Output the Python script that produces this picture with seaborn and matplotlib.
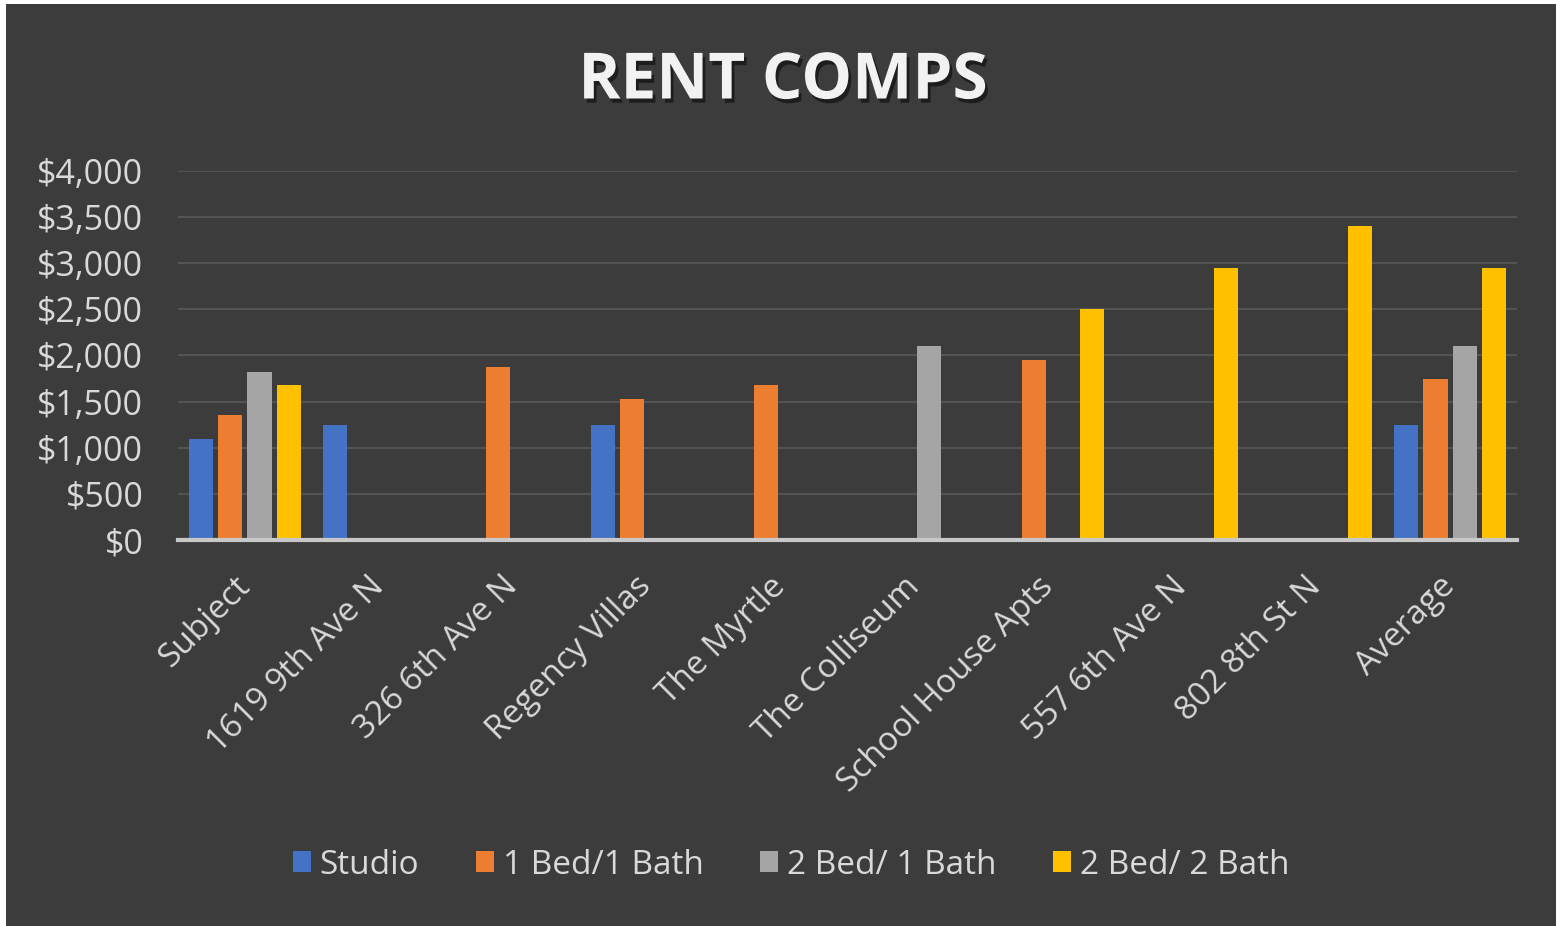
import numpy as np
import pandas as pd
import matplotlib
matplotlib.use("Agg")
import matplotlib.pyplot as plt
import matplotlib.patheffects as pe
from matplotlib.patches import Rectangle
from matplotlib.ticker import FuncFormatter
import seaborn as sns

# Data
properties = ["Subject", "1619 9th Ave N", "326 6th Ave N", "Regency Villas", "The Myrtle",
              "The Colliseum", "School House Apts", "557 6th Ave N", "802 8th St N", "Average"]
unit_types = ["Studio", "1 Bed/1 Bath", "2 Bed/ 1 Bath", "2 Bed/ 2 Bath"]
studio = [1100, 1250, np.nan, 1250, np.nan, np.nan, np.nan, np.nan, np.nan, 1250]
one_bed = [1350, np.nan, 1875, 1525, 1675, np.nan, 1950, np.nan, np.nan, 1750]
two_bed_one_bath = [1825, np.nan, np.nan, np.nan, np.nan, 2100, np.nan, np.nan, np.nan, 2100]
two_bed_two_bath = [1675, np.nan, np.nan, np.nan, np.nan, np.nan, 2500, 2950, 3400, 2950]
colors = ["#4472C4", "#ED7D31", "#A5A5A5", "#FFC000"]

df = pd.DataFrame({"Property": properties, unit_types[0]: studio, unit_types[1]: one_bed,
                   unit_types[2]: two_bed_one_bath, unit_types[3]: two_bed_two_bath})
long = df.melt(id_vars="Property", var_name="Unit", value_name="Rent").dropna()

sns.set_theme(style="dark")
plt.rcParams["font.family"] = ["Open Sans", "DejaVu Sans"]

bg = "#3c3c3c"
txt = "#d9d9d9"

fig = plt.figure(figsize=(15.67, 9.26), dpi=100, facecolor="white")
fig.patches.append(Rectangle((6 / 1567, 0.0), 1550 / 1567, 922 / 926, transform=fig.transFigure,
                             facecolor=bg, edgecolor="none", zorder=-5))
ax = fig.add_axes([178 / 1567, 1 - 540 / 926, (1517 - 178) / 1567, (540 - 171) / 926])
ax.set_facecolor("none")
ax.set_zorder(2)

sns.barplot(data=long, x="Property", y="Rent", hue="Unit", order=properties, hue_order=unit_types,
            palette=colors, width=0.87, gap=0.17, saturation=1, errorbar=None, ax=ax, zorder=3,
            edgecolor="none")

ax.set_ylim(0, 4000)
ax.set_xlim(-0.5, len(properties) - 0.5)
ax.set_yticks(range(0, 4001, 500))
ax.yaxis.set_major_formatter(FuncFormatter(lambda v, p: f"${v:,.0f}"))
ax.grid(axis="y", color="#585858", linewidth=1.2, zorder=0)
ax.grid(axis="x", visible=False)
for s in ["top", "right", "left"]:
    ax.spines[s].set_visible(False)
ax.spines["bottom"].set_color("#c8c8c8")
ax.spines["bottom"].set_linewidth(3)
ax.spines["bottom"].set_zorder(4)
ax.tick_params(axis="y", colors=txt, labelsize=24.5, length=0, pad=25)
ax.tick_params(axis="x", colors=txt, labelsize=24, length=0, pad=30)
for lab in ax.get_xticklabels():
    lab.set_rotation(45)
    lab.set_ha("right")
    lab.set_va("center")
    lab.set_rotation_mode("anchor")
ax.set_xlabel("")
ax.set_ylabel("")

handles, labels = ax.get_legend_handles_labels()
ax.legend_.remove()
leg = fig.legend(handles, labels, loc="center", bbox_to_anchor=(791 / 1567, 1 - 865 / 926), ncol=4,
                 frameon=False, fontsize=24, labelcolor=txt, handlelength=0.55, handleheight=0.6,
                 handletextpad=0.25, columnspacing=1.7)
for h in leg.legend_handles:
    h.set_edgecolor("none")

fig.text(783 / 1567, 1 - 82 / 926, "RENT COMPS", ha="center", va="center", fontsize=46,
         fontweight="bold", color="#f2f2f2",
         path_effects=[pe.withSimplePatchShadow(offset=(2, -3), shadow_rgbFace="black", alpha=0.5)])

fig.savefig("out.png", dpi=100, facecolor=fig.get_facecolor())
